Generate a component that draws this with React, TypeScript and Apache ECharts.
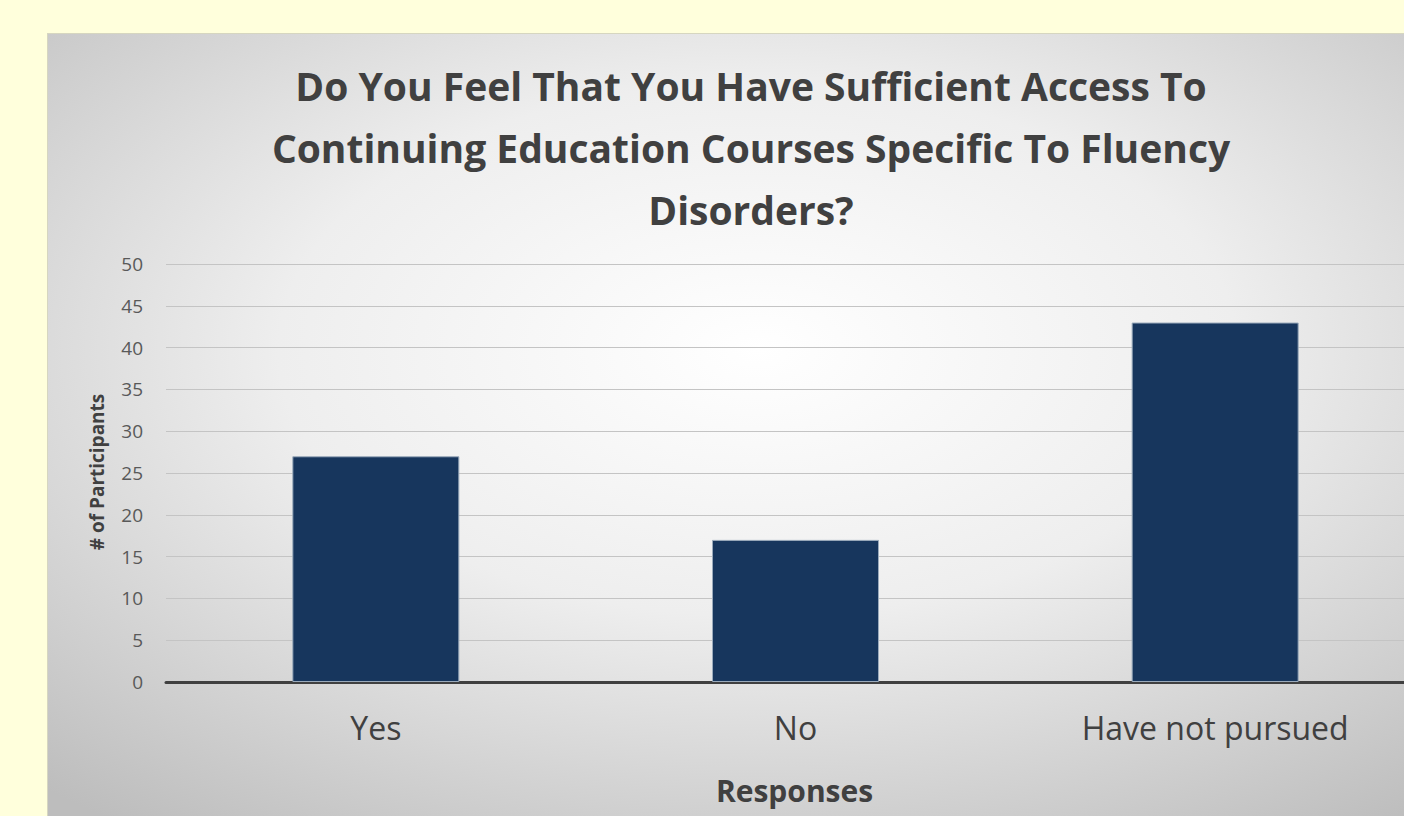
import React, { useEffect, useRef } from "react";
import * as echarts from "echarts";

const categories = ["Yes", "No", "Have not pursued"];
const participants = [27, 17, 43];
const yTicks = [0, 5, 10, 15, 20, 25, 30, 35, 40, 45, 50];
const titleText =
  "Do You Feel That You Have Sufficient Access To\nContinuing Education Courses Specific To Fluency\nDisorders?";

export default function App() {
  const ref = useRef<HTMLDivElement>(null);
  useEffect(() => {
    if (!ref.current) return;
    const chart = echarts.init(ref.current, undefined, { renderer: "svg" });
    chart.setOption({
      animation: false,
      backgroundColor: new echarts.graphic.RadialGradient(0.5, 0.4, 0.75, [
        { offset: 0, color: "#ffffff" },
        { offset: 0.45, color: "#eeeeee" },
        { offset: 1, color: "#bdbdbd" },
      ]),
      title: {
        text: titleText,
        left: 698,
        top: 15,
        textAlign: "center",
        textStyle: {
          fontFamily: "Open Sans",
          fontWeight: "bold",
          fontSize: 39,
          lineHeight: 62,
          color: "#404040",
        },
      },
      grid: { left: 118, right: 42, top: 230, bottom: 141 },
      xAxis: {
        type: "category",
        data: categories,
        axisLine: { lineStyle: { color: "#404040", width: 3 } },
        axisTick: { show: false },
        axisLabel: {
          fontFamily: "Open Sans",
          fontSize: 32,
          color: "#404040",
          margin: 29,
        },
      },
      yAxis: {
        type: "value",
        min: 0,
        max: 50,
        interval: 5,
        axisLine: { show: false },
        axisTick: { show: false },
        axisLabel: {
          fontFamily: "Open Sans",
          fontSize: 19,
          color: "#595959",
          margin: 23,
          formatter: (v: number) => (yTicks.includes(v) ? String(v) : ""),
        },
        splitLine: { lineStyle: { color: "#c4c4c4", width: 1 } },
      },
      series: [
        {
          type: "bar",
          data: participants,
          barWidth: 167,
          itemStyle: {
            color: "#17365d",
            borderColor: "#9aaabb",
            borderWidth: 1,
          },
        },
      ],
      graphic: [
        {
          type: "text",
          x: 49,
          y: 438,
          rotation: Math.PI / 2,
          style: {
            text: "# of Participants",
            fontFamily: "Open Sans",
            fontWeight: "bold",
            fontSize: 19,
            fill: "#404040",
            align: "center",
            verticalAlign: "middle",
          },
        },
        {
          type: "text",
          x: 746.5,
          y: 756,
          style: {
            text: "Responses",
            fontFamily: "Open Sans",
            fontWeight: "bold",
            fontSize: 30,
            fill: "#404040",
            align: "center",
            verticalAlign: "middle",
          },
        },
      ],
    });
    return () => chart.dispose();
  }, []);

  return (
    <div
      style={{
        position: "fixed",
        left: 0,
        top: 0,
        width: 1404,
        height: 816,
        overflow: "hidden",
        background: "#ffffdc",
      }}
    >
      <div
        style={{
          position: "absolute",
          left: 47,
          top: 33,
          width: 1420,
          height: 790,
          borderTop: "1px solid #d6d6c0",
          borderLeft: "1px solid #d6d6c0",
          boxSizing: "border-box",
        }}
      >
        <div ref={ref} style={{ width: 1419, height: 789 }} />
      </div>
    </div>
  );
}
